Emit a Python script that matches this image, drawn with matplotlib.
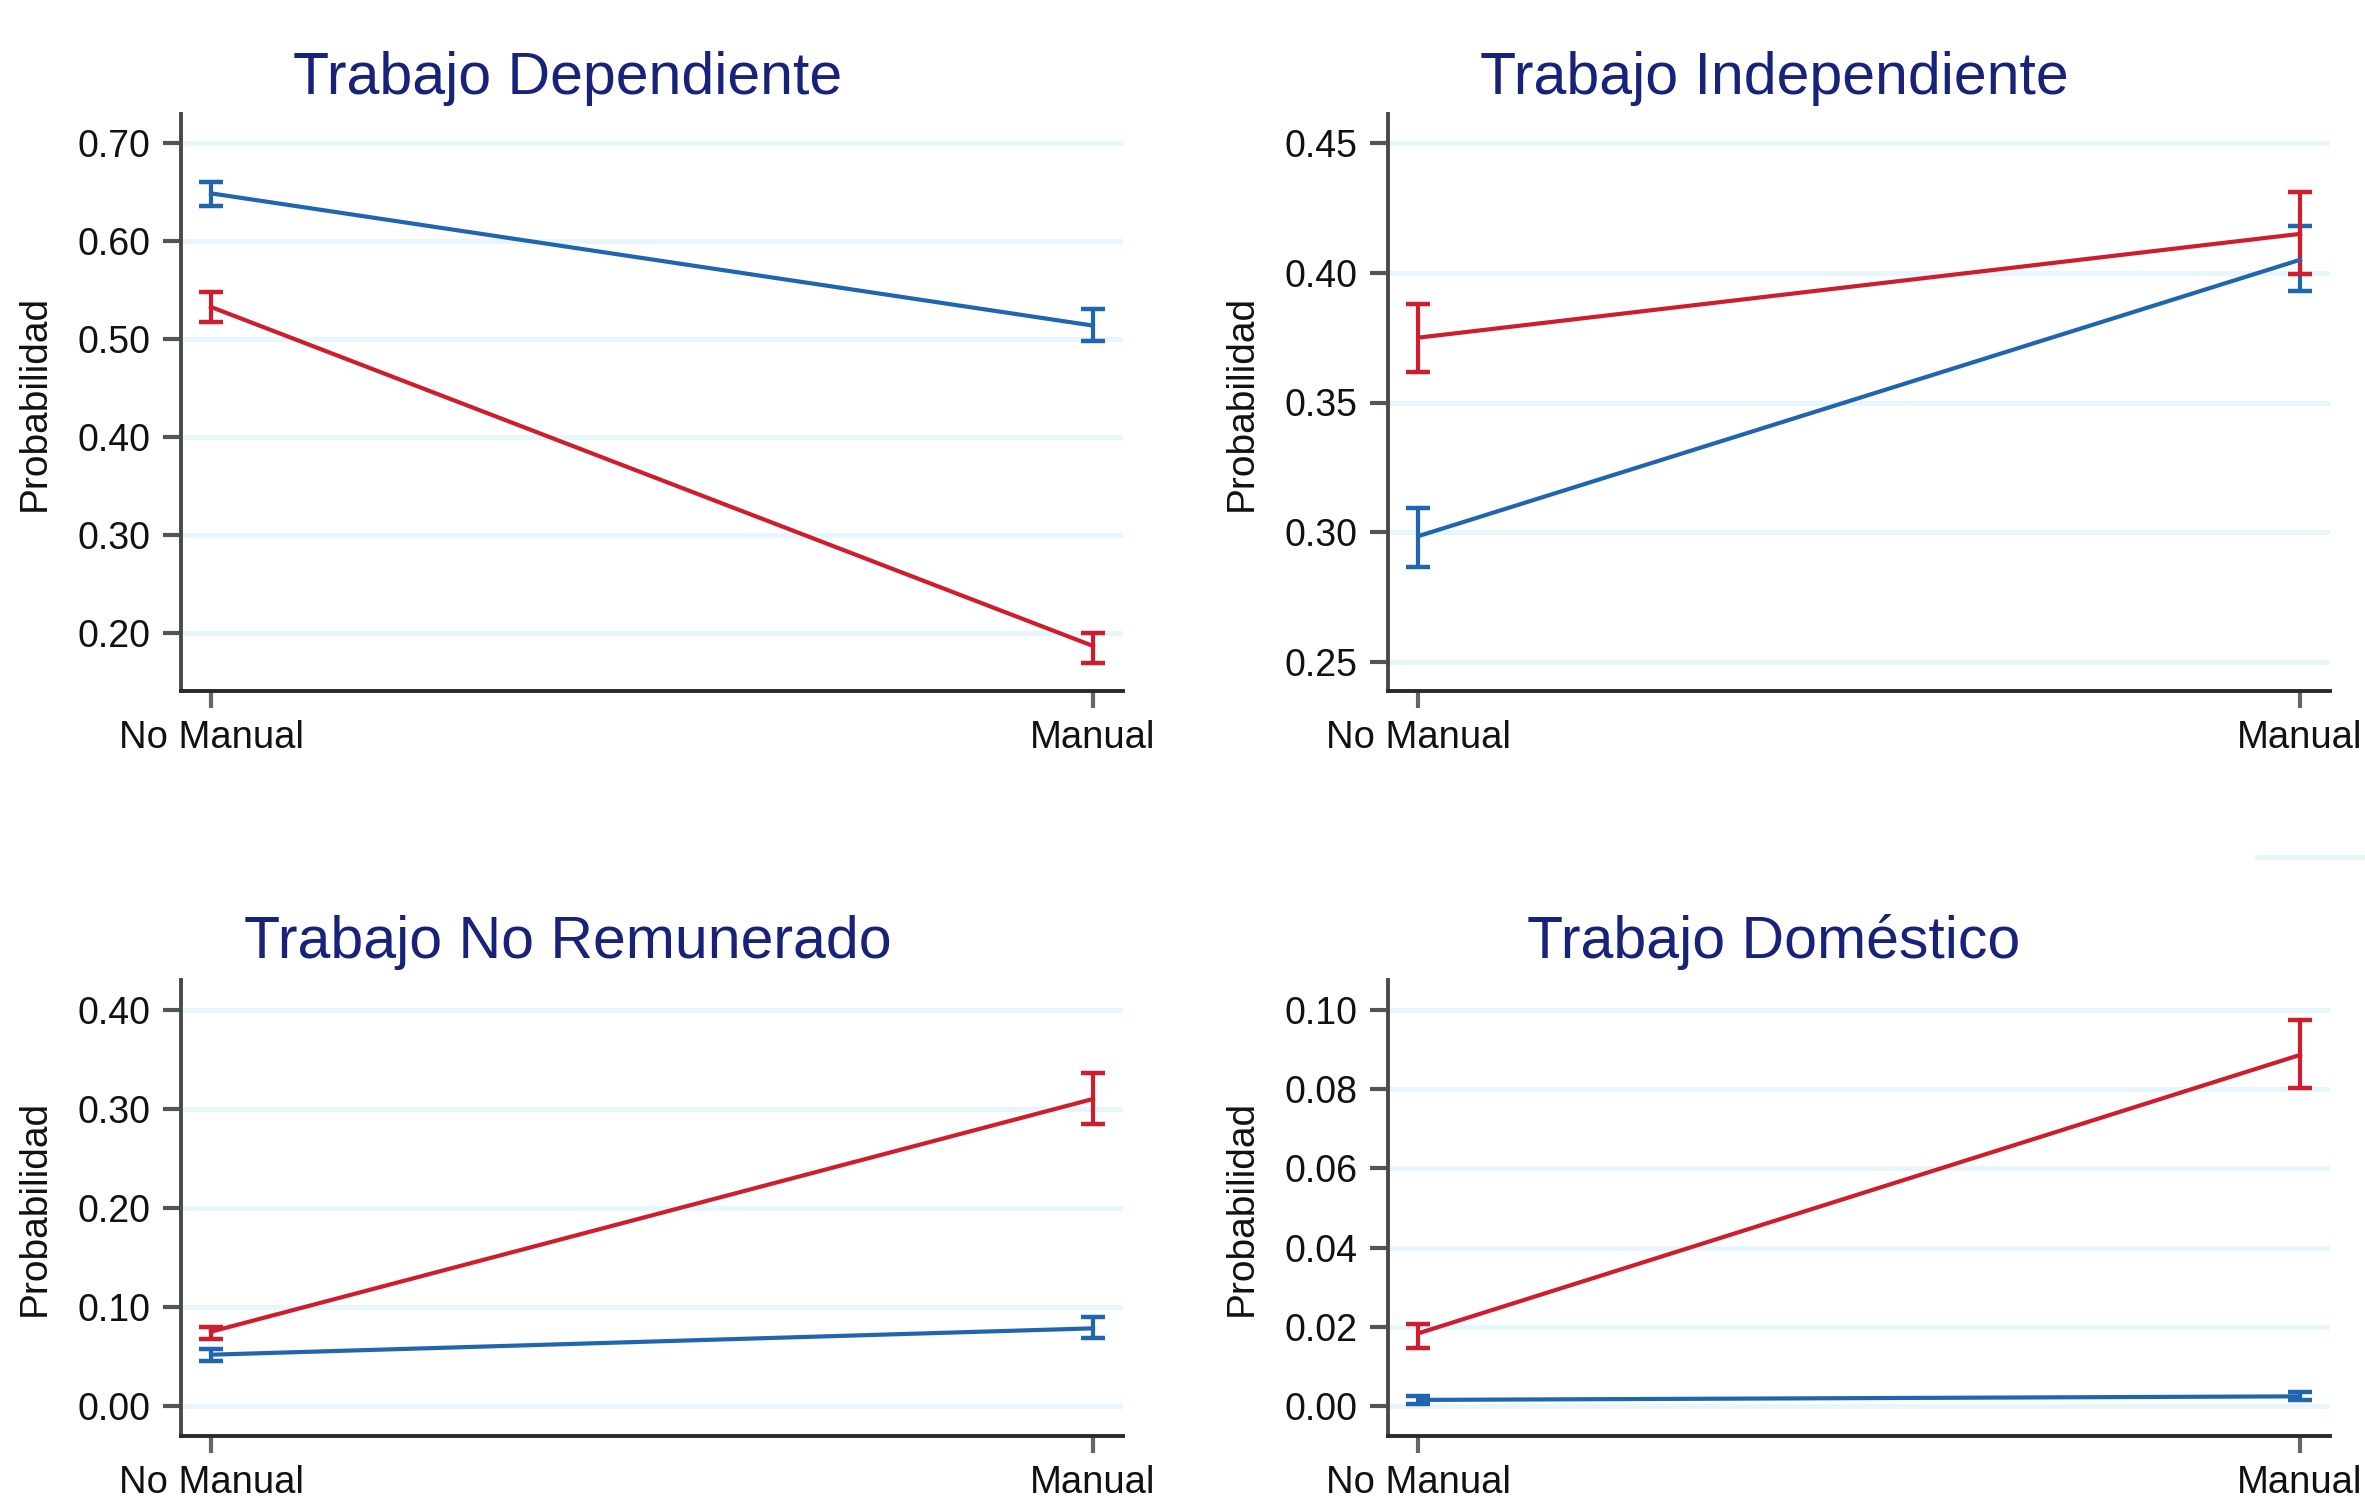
import numpy as np
import matplotlib
matplotlib.use("Agg")
import matplotlib.pyplot as plt
from matplotlib.lines import Line2D
from matplotlib.ticker import FormatStrFormatter

plt.rcParams['font.family'] = ['Liberation Sans', 'DejaVu Sans']

categories = ["No Manual", "Manual"]

# --- Trabajo Dependiente ---
dep_blue = [0.649, 0.514]
dep_blue_lo = [0.636, 0.498]
dep_blue_hi = [0.661, 0.531]
dep_red = [0.533, 0.187]
dep_red_lo = [0.518, 0.170]
dep_red_hi = [0.548, 0.200]

# --- Trabajo Independiente ---
ind_blue = [0.2985, 0.405]
ind_blue_lo = [0.2867, 0.393]
ind_blue_hi = [0.3094, 0.418]
ind_red = [0.375, 0.415]
ind_red_lo = [0.3616, 0.3995]
ind_red_hi = [0.388, 0.431]

# --- Trabajo No Remunerado ---
nrem_blue = [0.052, 0.0786]
nrem_blue_lo = [0.0458, 0.0686]
nrem_blue_hi = [0.0574, 0.0897]
nrem_red = [0.0752, 0.310]
nrem_red_lo = [0.068, 0.285]
nrem_red_hi = [0.080, 0.336]

# --- Trabajo Doméstico ---
dom_blue = [0.0016, 0.0025]
dom_blue_lo = [0.0006, 0.0016]
dom_blue_hi = [0.0025, 0.0035]
dom_red = [0.0184, 0.0886]
dom_red_lo = [0.0148, 0.0803]
dom_red_hi = [0.0207, 0.0975]

titles = ["Trabajo Dependiente", "Trabajo Independiente",
          "Trabajo No Remunerado", "Trabajo Doméstico"]
yticks_list = [[0.20, 0.30, 0.40, 0.50, 0.60, 0.70],
               [0.25, 0.30, 0.35, 0.40, 0.45],
               [0.00, 0.10, 0.20, 0.30, 0.40],
               [0.00, 0.02, 0.04, 0.06, 0.08, 0.10]]
ylims = [(0.141, 0.730), (0.2388, 0.4612), (-0.030, 0.430), (-0.0075, 0.1075)]

BLUE = '#1f65b0'
RED = '#cf1d2e'
NAVY = '#18227a'
GRID = '#e6f6fa'

W, H = 2365, 1509
fig = plt.figure(figsize=(W / 100, H / 100), dpi=100)
fig.patch.set_facecolor('white')

# axes boxes in pixels: (left, right, top, bottom)
boxes = [(180.6, 1123, 114, 691), (1388, 2330, 114, 691),
         (180.6, 1123, 980, 1436), (1388, 2330, 980, 1436)]
title_pos = [(568, 94.5), (1774, 94.5), (568, 958), (1774, 958)]

panels = [
    (dep_blue, dep_blue_lo, dep_blue_hi, dep_red, dep_red_lo, dep_red_hi),
    (ind_blue, ind_blue_lo, ind_blue_hi, ind_red, ind_red_lo, ind_red_hi),
    (nrem_blue, nrem_blue_lo, nrem_blue_hi, nrem_red, nrem_red_lo, nrem_red_hi),
    (dom_blue, dom_blue_lo, dom_blue_hi, dom_red, dom_red_lo, dom_red_hi),
]

x = np.arange(len(categories))

for i, (b, blo, bhi, r, rlo, rhi) in enumerate(panels):
    l, rgt, t, btm = boxes[i]
    ax = fig.add_axes([l / W, 1 - btm / H, (rgt - l) / W, (btm - t) / H])

    for mean, lo, hi, col in [(b, blo, bhi, BLUE), (r, rlo, rhi, RED)]:
        mean = np.array(mean)
        yerr = [mean - np.array(lo), np.array(hi) - mean]
        ax.errorbar(x, mean, yerr=yerr, color=col, lw=3.0, elinewidth=3.0,
                    capsize=8.3, capthick=3.2, zorder=3)

    ax.set_xlim(-0.0345, 1.034)
    ax.set_ylim(*ylims[i])
    ax.set_xticks(x)
    ax.set_xticklabels(categories)
    ax.set_yticks(yticks_list[i])
    ax.yaxis.set_major_formatter(FormatStrFormatter('%.2f'))

    ax.grid(axis='y', color=GRID, lw=3.5, zorder=0)
    ax.set_axisbelow(True)

    for s in ['top', 'right']:
        ax.spines[s].set_visible(False)
    ax.spines['left'].set_color('#4a4a4a')
    ax.spines['bottom'].set_color('#2a2a2a')
    ax.spines['left'].set_linewidth(2.8)
    ax.spines['bottom'].set_linewidth(2.8)

    ax.tick_params(axis='y', length=13, width=3, color='#555555',
                   labelsize=27, pad=9, labelcolor='#111111')
    ax.tick_params(axis='x', length=12, width=3, color='#666666',
                   labelsize=27.5, pad=9, labelcolor='#111111')

    ax.set_ylabel("Probabilidad", fontsize=28, color='#111111')
    ax.yaxis.set_label_coords(-0.136, 0.5)

    tx, ty = title_pos[i]
    fig.text(tx / W, 1 - ty / H, titles[i], ha='center', va='baseline',
             fontsize=42.5, color=NAVY)

# stray light gridline fragment at the right edge
fig.add_artist(Line2D([2257 / W, 1.0], [1 - 857 / H, 1 - 857 / H],
                      color=GRID, lw=3.5, transform=fig.transFigure))

fig.savefig("out.png", dpi=100, facecolor='white')
